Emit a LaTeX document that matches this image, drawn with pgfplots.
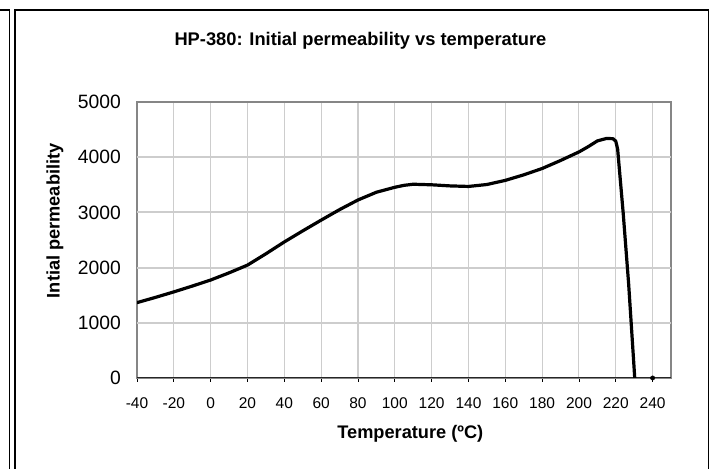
\documentclass[border=0pt]{standalone}
\usepackage{pgfplots}
\pgfplotsset{compat=1.18}
\usepackage{fontspec}
\setmainfont{Liberation Sans}
\definecolor{gridc}{RGB}{205,205,205}
\definecolor{boxc}{RGB}{134,134,134}
\begin{document}
\begin{tikzpicture}[x=1bp,y=1bp]
\useasboundingbox (0,0) rectangle (713,469);
\draw[line width=1.1bp] (-5,459) -- (9.3,459) -- (9.3,-5);
\draw[line width=1.1bp] (15,-5) -- (15,459) -- (708.3,459) -- (708.3,-5);
\begin{axis}[
 at={(137bp,91bp)}, anchor=south west,
 scale only axis, width=534bp, height=276bp,
 xmin=-40, xmax=250, ymin=0, ymax=5000,
 xtick={-40,-20,...,240},
 xticklabels={-40,-20,0,20,40,60,80,100,120,140,160,180,200,220,240},
 ytick={0,1000,...,5000},
 yticklabels={0,1000,2000,3000,4000,5000},
 scaled y ticks=false,
 xmajorgrids=true,
 major grid style={draw=gridc, line width=1.1bp},
 axis line style={boxc, line width=1.2bp},
 tick align=outside, major tick length=4bp,
 xtick pos=bottom, ytick pos=left,
 xtick style={black, line width=0.8bp},
 ytick style={draw=none},
 xticklabel style={font=\fontsize{15.5bp}{18bp}\selectfont, inner sep=0pt, anchor=north, yshift=-15bp},
 yticklabel style={font=\fontsize{19.3bp}{22bp}\selectfont, inner sep=0pt, anchor=east, xshift=-12bp},
 xlabel={Temperature (ºC)},
 xlabel style={font=\bfseries\fontsize{18.2bp}{20bp}\selectfont, at={(axis description cs:0.5118,0)}, anchor=north, yshift=-47bp, inner sep=0pt},
 ylabel={Intial permeability},
 ylabel style={font=\bfseries\fontsize{18.2bp}{20bp}\selectfont, at={(axis description cs:-0.1536,0.5696)}, anchor=center, rotate=0, inner sep=0pt},
 title={HP-380: Initial permeability vs temperature},
 title style={font=\bfseries\fontsize{18.3bp}{20bp}\selectfont, at={(axis description cs:0.4185,1.1848)}, anchor=base, inner sep=0pt},
]
\pgfplotsinvokeforeach{1000,2000,3000,4000}{
  \draw[color=gridc, line width=2bp] (axis cs:-40,#1) -- (axis cs:250,#1);
}
\draw[black!85, line width=1.3bp] (rel axis cs:0,0) -- (rel axis cs:1,0);
\addplot[black, line width=3.2bp, line join=round, line cap=round] coordinates {
(-40,1365) (-30,1460) (-20,1560) (-10,1665) (0,1775) (10,1905) (20,2045)
(30,2250) (40,2465) (50,2665) (60,2860) (70,3050) (80,3225) (90,3365)
(100,3455) (105,3490) (110,3510) (120,3500) (130,3480) (140,3470)
(150,3505) (160,3580) (170,3680) (180,3795) (190,3940) (200,4095)
(205,4190) (210,4295) (215,4340) (218.5,4335) (220,4290) (221,4150)
(224,3000) (227,1700) (230.3,0)
};
\addplot[only marks, mark=*, mark size=2.2bp, black] coordinates {(240,0)};
\end{axis}
\end{tikzpicture}
\end{document}
